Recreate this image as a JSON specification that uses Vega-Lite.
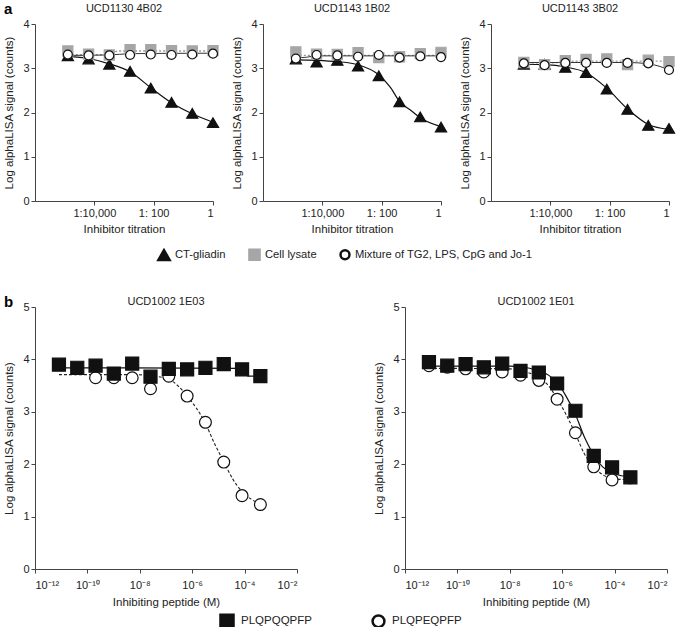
{
"$schema":"https://vega.github.io/schema/vega-lite/v6.json",
"padding":{"left":3,"top":2,"right":0,"bottom":0},
"background":"white",
"config":{
 "view":{"stroke":null},
 "font":"Liberation Sans",
 "axis":{"grid":false,"domainColor":"#444","tickColor":"#444","labelColor":"#222","titleColor":"#222","labelFont":"Liberation Sans","titleFont":"Liberation Sans","labelFontSize":11,"titleFontSize":11.5,"titleFontWeight":"normal","tickSize":4,"labelPadding":2},
 "title":{"font":"Liberation Sans","fontSize":11,"fontWeight":"normal","color":"#222","offset":4},
 "legend":{"labelFont":"Liberation Sans","labelFontSize":11.5,"labelColor":"#222","labelLimit":400}
},
"data":{"values":[
{"p":"a1","s":"CT-gliadin","k":"pt","x":1.28e-5,"y":3.28},
{"p":"a1","s":"CT-gliadin","k":"pt","x":6.4e-5,"y":3.21},
{"p":"a1","s":"CT-gliadin","k":"pt","x":3.2e-4,"y":3.09},
{"p":"a1","s":"CT-gliadin","k":"pt","x":1.6e-3,"y":2.93},
{"p":"a1","s":"CT-gliadin","k":"pt","x":8e-3,"y":2.55},
{"p":"a1","s":"CT-gliadin","k":"pt","x":0.04,"y":2.23},
{"p":"a1","s":"CT-gliadin","k":"pt","x":0.2,"y":1.98},
{"p":"a1","s":"CT-gliadin","k":"pt","x":1,"y":1.77},
{"p":"a1","s":"Cell lysate","k":"pt","x":1.28e-5,"y":3.39},
{"p":"a1","s":"Cell lysate","k":"pt","x":6.4e-5,"y":3.32},
{"p":"a1","s":"Cell lysate","k":"pt","x":3.2e-4,"y":3.30},
{"p":"a1","s":"Cell lysate","k":"pt","x":1.6e-3,"y":3.42},
{"p":"a1","s":"Cell lysate","k":"pt","x":8e-3,"y":3.42},
{"p":"a1","s":"Cell lysate","k":"pt","x":0.04,"y":3.40},
{"p":"a1","s":"Cell lysate","k":"pt","x":0.2,"y":3.39},
{"p":"a1","s":"Cell lysate","k":"pt","x":1,"y":3.40},
{"p":"a1","s":"Mixture of TG2, LPS, CpG and Jo-1","k":"pt","x":1.28e-5,"y":3.31},
{"p":"a1","s":"Mixture of TG2, LPS, CpG and Jo-1","k":"pt","x":6.4e-5,"y":3.29},
{"p":"a1","s":"Mixture of TG2, LPS, CpG and Jo-1","k":"pt","x":3.2e-4,"y":3.29},
{"p":"a1","s":"Mixture of TG2, LPS, CpG and Jo-1","k":"pt","x":1.6e-3,"y":3.30},
{"p":"a1","s":"Mixture of TG2, LPS, CpG and Jo-1","k":"pt","x":8e-3,"y":3.31},
{"p":"a1","s":"Mixture of TG2, LPS, CpG and Jo-1","k":"pt","x":0.04,"y":3.30},
{"p":"a1","s":"Mixture of TG2, LPS, CpG and Jo-1","k":"pt","x":0.2,"y":3.31},
{"p":"a1","s":"Mixture of TG2, LPS, CpG and Jo-1","k":"pt","x":1,"y":3.33},
{"p":"a1","s":"CT-gliadin","k":"fit","x":1.28e-5,"y":3.27},
{"p":"a1","s":"CT-gliadin","k":"fit","x":6.4e-5,"y":3.22},
{"p":"a1","s":"CT-gliadin","k":"fit","x":3.2e-4,"y":3.10},
{"p":"a1","s":"CT-gliadin","k":"fit","x":1.6e-3,"y":2.92},
{"p":"a1","s":"CT-gliadin","k":"fit","x":8e-3,"y":2.56},
{"p":"a1","s":"CT-gliadin","k":"fit","x":0.04,"y":2.22},
{"p":"a1","s":"CT-gliadin","k":"fit","x":0.2,"y":1.97},
{"p":"a1","s":"CT-gliadin","k":"fit","x":1,"y":1.78},
{"p":"a1","s":"Cell lysate","k":"fit","x":1.28e-5,"y":3.31},
{"p":"a1","s":"Cell lysate","k":"fit","x":3.2e-4,"y":3.31},
{"p":"a1","s":"Cell lysate","k":"fit","x":4e-4,"y":3.33},
{"p":"a1","s":"Cell lysate","k":"fit","x":5.5e-4,"y":3.38},
{"p":"a1","s":"Cell lysate","k":"fit","x":7e-4,"y":3.39},
{"p":"a1","s":"Cell lysate","k":"fit","x":1,"y":3.39},
{"p":"a1","s":"Mixture of TG2, LPS, CpG and Jo-1","k":"fit","x":1.28e-5,"y":3.29},
{"p":"a1","s":"Mixture of TG2, LPS, CpG and Jo-1","k":"fit","x":3.2e-4,"y":3.30},
{"p":"a1","s":"Mixture of TG2, LPS, CpG and Jo-1","k":"fit","x":1.6e-3,"y":3.33},
{"p":"a1","s":"Mixture of TG2, LPS, CpG and Jo-1","k":"fit","x":1,"y":3.34},

{"p":"a2","s":"CT-gliadin","k":"pt","x":1.28e-5,"y":3.21},
{"p":"a2","s":"CT-gliadin","k":"pt","x":6.4e-5,"y":3.14},
{"p":"a2","s":"CT-gliadin","k":"pt","x":3.2e-4,"y":3.18},
{"p":"a2","s":"CT-gliadin","k":"pt","x":1.6e-3,"y":3.05},
{"p":"a2","s":"CT-gliadin","k":"pt","x":8e-3,"y":2.83},
{"p":"a2","s":"CT-gliadin","k":"pt","x":0.04,"y":2.24},
{"p":"a2","s":"CT-gliadin","k":"pt","x":0.2,"y":1.90},
{"p":"a2","s":"CT-gliadin","k":"pt","x":1,"y":1.67},
{"p":"a2","s":"Cell lysate","k":"pt","x":1.28e-5,"y":3.37},
{"p":"a2","s":"Cell lysate","k":"pt","x":6.4e-5,"y":3.32},
{"p":"a2","s":"Cell lysate","k":"pt","x":3.2e-4,"y":3.31},
{"p":"a2","s":"Cell lysate","k":"pt","x":1.6e-3,"y":3.35},
{"p":"a2","s":"Cell lysate","k":"pt","x":8e-3,"y":3.24},
{"p":"a2","s":"Cell lysate","k":"pt","x":0.04,"y":3.26},
{"p":"a2","s":"Cell lysate","k":"pt","x":0.2,"y":3.33},
{"p":"a2","s":"Cell lysate","k":"pt","x":1,"y":3.36},
{"p":"a2","s":"Mixture of TG2, LPS, CpG and Jo-1","k":"pt","x":1.28e-5,"y":3.22},
{"p":"a2","s":"Mixture of TG2, LPS, CpG and Jo-1","k":"pt","x":6.4e-5,"y":3.30},
{"p":"a2","s":"Mixture of TG2, LPS, CpG and Jo-1","k":"pt","x":3.2e-4,"y":3.29},
{"p":"a2","s":"Mixture of TG2, LPS, CpG and Jo-1","k":"pt","x":1.6e-3,"y":3.26},
{"p":"a2","s":"Mixture of TG2, LPS, CpG and Jo-1","k":"pt","x":8e-3,"y":3.30},
{"p":"a2","s":"Mixture of TG2, LPS, CpG and Jo-1","k":"pt","x":0.04,"y":3.24},
{"p":"a2","s":"Mixture of TG2, LPS, CpG and Jo-1","k":"pt","x":0.2,"y":3.27},
{"p":"a2","s":"Mixture of TG2, LPS, CpG and Jo-1","k":"pt","x":1,"y":3.25},
{"p":"a2","s":"CT-gliadin","k":"fit","x":1.28e-5,"y":3.19},
{"p":"a2","s":"CT-gliadin","k":"fit","x":6.4e-5,"y":3.18},
{"p":"a2","s":"CT-gliadin","k":"fit","x":3.2e-4,"y":3.15},
{"p":"a2","s":"CT-gliadin","k":"fit","x":1.6e-3,"y":3.08},
{"p":"a2","s":"CT-gliadin","k":"fit","x":8e-3,"y":2.85},
{"p":"a2","s":"CT-gliadin","k":"fit","x":0.02,"y":2.56},
{"p":"a2","s":"CT-gliadin","k":"fit","x":0.04,"y":2.25},
{"p":"a2","s":"CT-gliadin","k":"fit","x":0.1,"y":2.04},
{"p":"a2","s":"CT-gliadin","k":"fit","x":0.2,"y":1.88},
{"p":"a2","s":"CT-gliadin","k":"fit","x":1,"y":1.68},
{"p":"a2","s":"Cell lysate","k":"fit","x":1.28e-5,"y":3.29},
{"p":"a2","s":"Cell lysate","k":"fit","x":1,"y":3.29},
{"p":"a2","s":"Mixture of TG2, LPS, CpG and Jo-1","k":"fit","x":1.28e-5,"y":3.23},
{"p":"a2","s":"Mixture of TG2, LPS, CpG and Jo-1","k":"fit","x":3e-5,"y":3.25},
{"p":"a2","s":"Mixture of TG2, LPS, CpG and Jo-1","k":"fit","x":6.4e-5,"y":3.28},
{"p":"a2","s":"Mixture of TG2, LPS, CpG and Jo-1","k":"fit","x":1,"y":3.28},

{"p":"a3","s":"CT-gliadin","k":"pt","x":1.28e-5,"y":3.09},
{"p":"a3","s":"CT-gliadin","k":"pt","x":6.4e-5,"y":3.09},
{"p":"a3","s":"CT-gliadin","k":"pt","x":3.2e-4,"y":3.02},
{"p":"a3","s":"CT-gliadin","k":"pt","x":1.6e-3,"y":2.90},
{"p":"a3","s":"CT-gliadin","k":"pt","x":8e-3,"y":2.53},
{"p":"a3","s":"CT-gliadin","k":"pt","x":0.04,"y":2.07},
{"p":"a3","s":"CT-gliadin","k":"pt","x":0.2,"y":1.71},
{"p":"a3","s":"CT-gliadin","k":"pt","x":1,"y":1.64},
{"p":"a3","s":"Cell lysate","k":"pt","x":1.28e-5,"y":3.13},
{"p":"a3","s":"Cell lysate","k":"pt","x":6.4e-5,"y":3.08},
{"p":"a3","s":"Cell lysate","k":"pt","x":3.2e-4,"y":3.17},
{"p":"a3","s":"Cell lysate","k":"pt","x":1.6e-3,"y":3.20},
{"p":"a3","s":"Cell lysate","k":"pt","x":8e-3,"y":3.21},
{"p":"a3","s":"Cell lysate","k":"pt","x":0.04,"y":3.08},
{"p":"a3","s":"Cell lysate","k":"pt","x":0.2,"y":3.18},
{"p":"a3","s":"Cell lysate","k":"pt","x":1,"y":3.15},
{"p":"a3","s":"Mixture of TG2, LPS, CpG and Jo-1","k":"pt","x":1.28e-5,"y":3.11},
{"p":"a3","s":"Mixture of TG2, LPS, CpG and Jo-1","k":"pt","x":6.4e-5,"y":3.07},
{"p":"a3","s":"Mixture of TG2, LPS, CpG and Jo-1","k":"pt","x":3.2e-4,"y":3.12},
{"p":"a3","s":"Mixture of TG2, LPS, CpG and Jo-1","k":"pt","x":1.6e-3,"y":3.12},
{"p":"a3","s":"Mixture of TG2, LPS, CpG and Jo-1","k":"pt","x":8e-3,"y":3.12},
{"p":"a3","s":"Mixture of TG2, LPS, CpG and Jo-1","k":"pt","x":0.04,"y":3.12},
{"p":"a3","s":"Mixture of TG2, LPS, CpG and Jo-1","k":"pt","x":0.2,"y":3.11},
{"p":"a3","s":"Mixture of TG2, LPS, CpG and Jo-1","k":"pt","x":1,"y":2.96},
{"p":"a3","s":"CT-gliadin","k":"fit","x":1.28e-5,"y":3.09},
{"p":"a3","s":"CT-gliadin","k":"fit","x":6.4e-5,"y":3.08},
{"p":"a3","s":"CT-gliadin","k":"fit","x":3.2e-4,"y":3.03},
{"p":"a3","s":"CT-gliadin","k":"fit","x":1.6e-3,"y":2.90},
{"p":"a3","s":"CT-gliadin","k":"fit","x":8e-3,"y":2.55},
{"p":"a3","s":"CT-gliadin","k":"fit","x":0.04,"y":2.08},
{"p":"a3","s":"CT-gliadin","k":"fit","x":0.2,"y":1.73},
{"p":"a3","s":"CT-gliadin","k":"fit","x":1,"y":1.62},
{"p":"a3","s":"Cell lysate","k":"fit","x":1.28e-5,"y":3.12},
{"p":"a3","s":"Cell lysate","k":"fit","x":1.5e-4,"y":3.12},
{"p":"a3","s":"Cell lysate","k":"fit","x":2.5e-4,"y":3.16},
{"p":"a3","s":"Cell lysate","k":"fit","x":1,"y":3.16},
{"p":"a3","s":"Mixture of TG2, LPS, CpG and Jo-1","k":"fit","x":1.28e-5,"y":3.13},
{"p":"a3","s":"Mixture of TG2, LPS, CpG and Jo-1","k":"fit","x":0.04,"y":3.13},
{"p":"a3","s":"Mixture of TG2, LPS, CpG and Jo-1","k":"fit","x":0.2,"y":3.10},
{"p":"a3","s":"Mixture of TG2, LPS, CpG and Jo-1","k":"fit","x":0.5,"y":3.04},
{"p":"a3","s":"Mixture of TG2, LPS, CpG and Jo-1","k":"fit","x":1,"y":2.96},

{"p":"b1","s":"PLQPQQPFP","k":"pt","x":8.2e-12,"y":3.90},
{"p":"b1","s":"PLQPQQPFP","k":"pt","x":4.1e-11,"y":3.84},
{"p":"b1","s":"PLQPQQPFP","k":"pt","x":2.05e-10,"y":3.88},
{"p":"b1","s":"PLQPQQPFP","k":"pt","x":1.02e-9,"y":3.73},
{"p":"b1","s":"PLQPQQPFP","k":"pt","x":5.12e-9,"y":3.92},
{"p":"b1","s":"PLQPQQPFP","k":"pt","x":2.56e-8,"y":3.67},
{"p":"b1","s":"PLQPQQPFP","k":"pt","x":1.28e-7,"y":3.82},
{"p":"b1","s":"PLQPQQPFP","k":"pt","x":6.4e-7,"y":3.81},
{"p":"b1","s":"PLQPQQPFP","k":"pt","x":3.2e-6,"y":3.84},
{"p":"b1","s":"PLQPQQPFP","k":"pt","x":1.6e-5,"y":3.91},
{"p":"b1","s":"PLQPQQPFP","k":"pt","x":8e-5,"y":3.81},
{"p":"b1","s":"PLQPQQPFP","k":"pt","x":4e-4,"y":3.68},
{"p":"b1","s":"PLQPEQPFP","k":"pt","x":2.05e-10,"y":3.65},
{"p":"b1","s":"PLQPEQPFP","k":"pt","x":1.02e-9,"y":3.65},
{"p":"b1","s":"PLQPEQPFP","k":"pt","x":5.12e-9,"y":3.65},
{"p":"b1","s":"PLQPEQPFP","k":"pt","x":2.56e-8,"y":3.44},
{"p":"b1","s":"PLQPEQPFP","k":"pt","x":1.28e-7,"y":3.68},
{"p":"b1","s":"PLQPEQPFP","k":"pt","x":6.4e-7,"y":3.30},
{"p":"b1","s":"PLQPEQPFP","k":"pt","x":3.2e-6,"y":2.80},
{"p":"b1","s":"PLQPEQPFP","k":"pt","x":1.6e-5,"y":2.04},
{"p":"b1","s":"PLQPEQPFP","k":"pt","x":8e-5,"y":1.40},
{"p":"b1","s":"PLQPEQPFP","k":"pt","x":4e-4,"y":1.23},
{"p":"b1","s":"PLQPQQPFP","k":"fit","x":8.2e-12,"y":3.84},
{"p":"b1","s":"PLQPQQPFP","k":"fit","x":8e-5,"y":3.83},
{"p":"b1","s":"PLQPQQPFP","k":"fit","x":1e-4,"y":3.80},
{"p":"b1","s":"PLQPQQPFP","k":"fit","x":1.2e-4,"y":3.70},
{"p":"b1","s":"PLQPQQPFP","k":"fit","x":1.4e-4,"y":3.68},
{"p":"b1","s":"PLQPQQPFP","k":"fit","x":4e-4,"y":3.68},
{"p":"b1","s":"PLQPEQPFP","k":"fit","x":8.2e-12,"y":3.71},
{"p":"b1","s":"PLQPEQPFP","k":"fit","x":5e-9,"y":3.71},
{"p":"b1","s":"PLQPEQPFP","k":"fit","x":2.56e-8,"y":3.69},
{"p":"b1","s":"PLQPEQPFP","k":"fit","x":1.28e-7,"y":3.62},
{"p":"b1","s":"PLQPEQPFP","k":"fit","x":2.8e-7,"y":3.50},
{"p":"b1","s":"PLQPEQPFP","k":"fit","x":6.4e-7,"y":3.30},
{"p":"b1","s":"PLQPEQPFP","k":"fit","x":1.4e-6,"y":3.08},
{"p":"b1","s":"PLQPEQPFP","k":"fit","x":3.2e-6,"y":2.78},
{"p":"b1","s":"PLQPEQPFP","k":"fit","x":7e-6,"y":2.40},
{"p":"b1","s":"PLQPEQPFP","k":"fit","x":1.6e-5,"y":2.05},
{"p":"b1","s":"PLQPEQPFP","k":"fit","x":3.5e-5,"y":1.72},
{"p":"b1","s":"PLQPEQPFP","k":"fit","x":8e-5,"y":1.48},
{"p":"b1","s":"PLQPEQPFP","k":"fit","x":1.8e-4,"y":1.33},
{"p":"b1","s":"PLQPEQPFP","k":"fit","x":4e-4,"y":1.25},

{"p":"b2","s":"PLQPQQPFP","k":"pt","x":8.2e-12,"y":3.95},
{"p":"b2","s":"PLQPQQPFP","k":"pt","x":4.1e-11,"y":3.88},
{"p":"b2","s":"PLQPQQPFP","k":"pt","x":2.05e-10,"y":3.91},
{"p":"b2","s":"PLQPQQPFP","k":"pt","x":1.02e-9,"y":3.85},
{"p":"b2","s":"PLQPQQPFP","k":"pt","x":5.12e-9,"y":3.92},
{"p":"b2","s":"PLQPQQPFP","k":"pt","x":2.56e-8,"y":3.78},
{"p":"b2","s":"PLQPQQPFP","k":"pt","x":1.28e-7,"y":3.75},
{"p":"b2","s":"PLQPQQPFP","k":"pt","x":6.4e-7,"y":3.54},
{"p":"b2","s":"PLQPQQPFP","k":"pt","x":3.2e-6,"y":3.02},
{"p":"b2","s":"PLQPQQPFP","k":"pt","x":1.6e-5,"y":2.16},
{"p":"b2","s":"PLQPQQPFP","k":"pt","x":8e-5,"y":1.94},
{"p":"b2","s":"PLQPQQPFP","k":"pt","x":4e-4,"y":1.75},
{"p":"b2","s":"PLQPEQPFP","k":"pt","x":8.2e-12,"y":3.88},
{"p":"b2","s":"PLQPEQPFP","k":"pt","x":4.1e-11,"y":3.85},
{"p":"b2","s":"PLQPEQPFP","k":"pt","x":2.05e-10,"y":3.82},
{"p":"b2","s":"PLQPEQPFP","k":"pt","x":1.02e-9,"y":3.76},
{"p":"b2","s":"PLQPEQPFP","k":"pt","x":5.12e-9,"y":3.76},
{"p":"b2","s":"PLQPEQPFP","k":"pt","x":2.56e-8,"y":3.70},
{"p":"b2","s":"PLQPEQPFP","k":"pt","x":1.28e-7,"y":3.60},
{"p":"b2","s":"PLQPEQPFP","k":"pt","x":6.4e-7,"y":3.24},
{"p":"b2","s":"PLQPEQPFP","k":"pt","x":3.2e-6,"y":2.60},
{"p":"b2","s":"PLQPEQPFP","k":"pt","x":1.6e-5,"y":1.95},
{"p":"b2","s":"PLQPEQPFP","k":"pt","x":8e-5,"y":1.70},
{"p":"b2","s":"PLQPEQPFP","k":"pt","x":4e-4,"y":1.74},
{"p":"b2","s":"PLQPQQPFP","k":"fit","x":8.2e-12,"y":3.87},
{"p":"b2","s":"PLQPQQPFP","k":"fit","x":1e-8,"y":3.87},
{"p":"b2","s":"PLQPQQPFP","k":"fit","x":2.56e-8,"y":3.86},
{"p":"b2","s":"PLQPQQPFP","k":"fit","x":1.28e-7,"y":3.78},
{"p":"b2","s":"PLQPQQPFP","k":"fit","x":3e-7,"y":3.70},
{"p":"b2","s":"PLQPQQPFP","k":"fit","x":6.4e-7,"y":3.55},
{"p":"b2","s":"PLQPQQPFP","k":"fit","x":1.4e-6,"y":3.30},
{"p":"b2","s":"PLQPQQPFP","k":"fit","x":3.2e-6,"y":2.95},
{"p":"b2","s":"PLQPQQPFP","k":"fit","x":7e-6,"y":2.52},
{"p":"b2","s":"PLQPQQPFP","k":"fit","x":1.6e-5,"y":2.18},
{"p":"b2","s":"PLQPQQPFP","k":"fit","x":3.5e-5,"y":1.95},
{"p":"b2","s":"PLQPQQPFP","k":"fit","x":8e-5,"y":1.84},
{"p":"b2","s":"PLQPQQPFP","k":"fit","x":1.8e-4,"y":1.78},
{"p":"b2","s":"PLQPQQPFP","k":"fit","x":4e-4,"y":1.76},
{"p":"b2","s":"PLQPEQPFP","k":"fit","x":8.2e-12,"y":3.83},
{"p":"b2","s":"PLQPEQPFP","k":"fit","x":1e-8,"y":3.82},
{"p":"b2","s":"PLQPEQPFP","k":"fit","x":2.56e-8,"y":3.79},
{"p":"b2","s":"PLQPEQPFP","k":"fit","x":1.28e-7,"y":3.65},
{"p":"b2","s":"PLQPEQPFP","k":"fit","x":3e-7,"y":3.50},
{"p":"b2","s":"PLQPEQPFP","k":"fit","x":6.4e-7,"y":3.25},
{"p":"b2","s":"PLQPEQPFP","k":"fit","x":1.4e-6,"y":2.95},
{"p":"b2","s":"PLQPEQPFP","k":"fit","x":3.2e-6,"y":2.58},
{"p":"b2","s":"PLQPEQPFP","k":"fit","x":7e-6,"y":2.20},
{"p":"b2","s":"PLQPEQPFP","k":"fit","x":1.6e-5,"y":1.95},
{"p":"b2","s":"PLQPEQPFP","k":"fit","x":3.5e-5,"y":1.80},
{"p":"b2","s":"PLQPEQPFP","k":"fit","x":8e-5,"y":1.73},
{"p":"b2","s":"PLQPEQPFP","k":"fit","x":4e-4,"y":1.70}
]},
"resolve":{"scale":{"shape":"independent","fill":"independent","stroke":"independent","size":"independent"},"legend":{"shape":"independent","fill":"independent","stroke":"independent","size":"independent"}},
"spacing":30,
"vconcat":[
{
 "title":{"text":"a","anchor":"start","fontSize":15,"fontWeight":"bold","color":"#000","offset":0,"dy":14},
 "spacing":10,
 "hconcat":[
  {"title":"UCD1130 4B02","width":178,"height":177,
   "transform":[{"filter":"datum.p == 'a1'"}],
   "encoding":{
    "x":{"field":"x","type":"quantitative","scale":{"type":"log","domain":[1e-6,1]},"axis":{"title":"Inhibitor titration","values":[1e-4,0.01,1],"labelExpr":"datum.value < 0.001 ? '1:10,000' : datum.value < 0.1 ? '1: 100' : '1'","titlePadding":5}},
    "y":{"field":"y","type":"quantitative","scale":{"domain":[0,4]},"axis":{"title":"Log alphaLISA signal (counts)","values":[0,1,2,3,4],"titlePadding":8}}
   },
   "layer":[
    {"transform":[{"filter":"datum.k == 'fit' && datum.s == 'Cell lysate'"}],"mark":{"type":"line","color":"#999999","strokeDash":[2,2],"strokeWidth":1.3,"interpolate":"monotone"}},
    {"transform":[{"filter":"datum.k == 'fit' && datum.s == 'Mixture of TG2, LPS, CpG and Jo-1'"}],"mark":{"type":"line","color":"#333333","strokeWidth":1,"interpolate":"monotone"}},
    {"transform":[{"filter":"datum.k == 'fit' && datum.s == 'CT-gliadin'"}],"mark":{"type":"line","color":"#111111","strokeWidth":1.2,"interpolate":"monotone"}},
    {"transform":[{"filter":"datum.k == 'pt'"}],"mark":{"type":"point","filled":true,"opacity":1,"strokeWidth":1.2},
     "encoding":{
      "shape":{"field":"s","type":"nominal","scale":{"domain":["CT-gliadin","Cell lysate","Mixture of TG2, LPS, CpG and Jo-1"],"range":["triangle-up","square","circle"]},
        "legend":{"title":null,"orient":"none","direction":"horizontal","legendX":122,"legendY":224,"columnPadding":18,"labelOffset":4,"symbolStrokeWidth":2.5,"labelFontSize":11.2}},
      "fill":{"field":"s","type":"nominal","scale":{"domain":["CT-gliadin","Cell lysate","Mixture of TG2, LPS, CpG and Jo-1"],"range":["#111111","#a6a6a6","#ffffff"]}},
      "stroke":{"field":"s","type":"nominal","scale":{"domain":["CT-gliadin","Cell lysate","Mixture of TG2, LPS, CpG and Jo-1"],"range":["#111111","#a6a6a6","#111111"]}},
      "size":{"field":"s","type":"nominal","scale":{"domain":["CT-gliadin","Cell lysate","Mixture of TG2, LPS, CpG and Jo-1"],"range":[125,80,40]}}
     }}
   ]},
  {"title":"UCD1143 1B02","width":178,"height":177,
   "transform":[{"filter":"datum.p == 'a2'"}],
   "encoding":{
    "x":{"field":"x","type":"quantitative","scale":{"type":"log","domain":[1e-6,1]},"axis":{"title":"Inhibitor titration","values":[1e-4,0.01,1],"labelExpr":"datum.value < 0.001 ? '1:10,000' : datum.value < 0.1 ? '1: 100' : '1'","titlePadding":5}},
    "y":{"field":"y","type":"quantitative","scale":{"domain":[0,4]},"axis":{"title":"Log alphaLISA signal (counts)","values":[0,1,2,3,4],"titlePadding":8}}
   },
   "layer":[
    {"transform":[{"filter":"datum.k == 'fit' && datum.s == 'Cell lysate'"}],"mark":{"type":"line","color":"#999999","strokeDash":[2,2],"strokeWidth":1.3,"interpolate":"monotone"}},
    {"transform":[{"filter":"datum.k == 'fit' && datum.s == 'Mixture of TG2, LPS, CpG and Jo-1'"}],"mark":{"type":"line","color":"#333333","strokeWidth":1,"interpolate":"monotone"}},
    {"transform":[{"filter":"datum.k == 'fit' && datum.s == 'CT-gliadin'"}],"mark":{"type":"line","color":"#111111","strokeWidth":1.2,"interpolate":"monotone"}},
    {"transform":[{"filter":"datum.k == 'pt'"}],"mark":{"type":"point","filled":true,"opacity":1,"strokeWidth":1.2},
     "encoding":{
      "shape":{"field":"s","type":"nominal","scale":{"domain":["CT-gliadin","Cell lysate","Mixture of TG2, LPS, CpG and Jo-1"],"range":["triangle-up","square","circle"]}},
      "fill":{"field":"s","type":"nominal","scale":{"domain":["CT-gliadin","Cell lysate","Mixture of TG2, LPS, CpG and Jo-1"],"range":["#111111","#a6a6a6","#ffffff"]}},
      "stroke":{"field":"s","type":"nominal","scale":{"domain":["CT-gliadin","Cell lysate","Mixture of TG2, LPS, CpG and Jo-1"],"range":["#111111","#a6a6a6","#111111"]}},
      "size":{"field":"s","type":"nominal","scale":{"domain":["CT-gliadin","Cell lysate","Mixture of TG2, LPS, CpG and Jo-1"],"range":[125,80,40]}}
     }}
   ]},
  {"title":"UCD1143 3B02","width":178,"height":177,
   "transform":[{"filter":"datum.p == 'a3'"}],
   "encoding":{
    "x":{"field":"x","type":"quantitative","scale":{"type":"log","domain":[1e-6,1]},"axis":{"title":"Inhibitor titration","values":[1e-4,0.01,1],"labelExpr":"datum.value < 0.001 ? '1:10,000' : datum.value < 0.1 ? '1: 100' : '1'","titlePadding":5}},
    "y":{"field":"y","type":"quantitative","scale":{"domain":[0,4]},"axis":{"title":"Log alphaLISA signal (counts)","values":[0,1,2,3,4],"titlePadding":8}}
   },
   "layer":[
    {"transform":[{"filter":"datum.k == 'fit' && datum.s == 'Cell lysate'"}],"mark":{"type":"line","color":"#999999","strokeDash":[2,2],"strokeWidth":1.3,"interpolate":"monotone"}},
    {"transform":[{"filter":"datum.k == 'fit' && datum.s == 'Mixture of TG2, LPS, CpG and Jo-1'"}],"mark":{"type":"line","color":"#333333","strokeWidth":1,"interpolate":"monotone"}},
    {"transform":[{"filter":"datum.k == 'fit' && datum.s == 'CT-gliadin'"}],"mark":{"type":"line","color":"#111111","strokeWidth":1.2,"interpolate":"monotone"}},
    {"transform":[{"filter":"datum.k == 'pt'"}],"mark":{"type":"point","filled":true,"opacity":1,"strokeWidth":1.2},
     "encoding":{
      "shape":{"field":"s","type":"nominal","scale":{"domain":["CT-gliadin","Cell lysate","Mixture of TG2, LPS, CpG and Jo-1"],"range":["triangle-up","square","circle"]}},
      "fill":{"field":"s","type":"nominal","scale":{"domain":["CT-gliadin","Cell lysate","Mixture of TG2, LPS, CpG and Jo-1"],"range":["#111111","#a6a6a6","#ffffff"]}},
      "stroke":{"field":"s","type":"nominal","scale":{"domain":["CT-gliadin","Cell lysate","Mixture of TG2, LPS, CpG and Jo-1"],"range":["#111111","#a6a6a6","#111111"]}},
      "size":{"field":"s","type":"nominal","scale":{"domain":["CT-gliadin","Cell lysate","Mixture of TG2, LPS, CpG and Jo-1"],"range":[125,80,40]}}
     }}
   ]}
 ]
},
{
 "title":{"text":"b","anchor":"start","fontSize":15,"fontWeight":"bold","color":"#000","offset":0,"dy":14},
 "spacing":75,
 "hconcat":[
  {"title":{"text":"UCD1002 1E03","offset":-6},"width":262,"height":262,
   "transform":[{"filter":"datum.p == 'b1'"}],
   "encoding":{
    "x":{"field":"x","type":"quantitative","scale":{"type":"log","domain":[1e-12,1e-2]},"axis":{"title":"Inhibiting peptide (M)","values":[1e-12,1e-10,1e-8,1e-6,1e-4,1e-2],"labelExpr":"datum.value < 1e-11 ? '10⁻¹²' : datum.value < 1e-9 ? '10⁻¹⁰' : datum.value < 1e-7 ? '10⁻⁸' : datum.value < 1e-5 ? '10⁻⁶' : datum.value < 1e-3 ? '10⁻⁴' : '10⁻²'","labelPadding":6,"titlePadding":6}},
    "y":{"field":"y","type":"quantitative","scale":{"domain":[0,5]},"axis":{"title":"Log alphaLISA signal (counts)","values":[0,1,2,3,4,5],"titlePadding":8}}
   },
   "layer":[
    {"transform":[{"filter":"datum.k == 'fit' && datum.s == 'PLQPEQPFP'"}],"mark":{"type":"line","color":"#222222","strokeDash":[3,2],"strokeWidth":1.1,"interpolate":"monotone"}},
    {"transform":[{"filter":"datum.k == 'fit' && datum.s == 'PLQPQQPFP'"}],"mark":{"type":"line","color":"#111111","strokeWidth":1.2,"interpolate":"monotone"}},
    {"transform":[{"filter":"datum.k == 'pt'"}],"mark":{"type":"point","filled":true,"opacity":1,"strokeWidth":1.2},
     "encoding":{
      "shape":{"field":"s","type":"nominal","scale":{"domain":["PLQPQQPFP","PLQPEQPFP"],"range":["square","circle"]},
        "legend":{"title":null,"orient":"none","direction":"horizontal","legendX":184,"legendY":306,"columnPadding":55,"labelOffset":6,"symbolStrokeWidth":2.5,"labelFontSize":11.5}},
      "fill":{"field":"s","type":"nominal","scale":{"domain":["PLQPQQPFP","PLQPEQPFP"],"range":["#111111","#ffffff"]}},
      "stroke":{"field":"s","type":"nominal","scale":{"domain":["PLQPQQPFP","PLQPEQPFP"],"range":["#111111","#111111"]}},
      "size":{"field":"s","type":"nominal","scale":{"domain":["PLQPQQPFP","PLQPEQPFP"],"range":[170,140]}},
      "order":{"field":"s","sort":"ascending"}
     }}
   ]},
  {"title":{"text":"UCD1002 1E01","offset":-6},"width":262,"height":262,
   "transform":[{"filter":"datum.p == 'b2'"}],
   "encoding":{
    "x":{"field":"x","type":"quantitative","scale":{"type":"log","domain":[1e-12,1e-2]},"axis":{"title":"Inhibiting peptide (M)","values":[1e-12,1e-10,1e-8,1e-6,1e-4,1e-2],"labelExpr":"datum.value < 1e-11 ? '10⁻¹²' : datum.value < 1e-9 ? '10⁻¹⁰' : datum.value < 1e-7 ? '10⁻⁸' : datum.value < 1e-5 ? '10⁻⁶' : datum.value < 1e-3 ? '10⁻⁴' : '10⁻²'","labelPadding":6,"titlePadding":6}},
    "y":{"field":"y","type":"quantitative","scale":{"domain":[0,5]},"axis":{"title":"Log alphaLISA signal (counts)","values":[0,1,2,3,4,5],"titlePadding":8}}
   },
   "layer":[
    {"transform":[{"filter":"datum.k == 'fit' && datum.s == 'PLQPEQPFP'"}],"mark":{"type":"line","color":"#222222","strokeDash":[3,2],"strokeWidth":1.1,"interpolate":"monotone"}},
    {"transform":[{"filter":"datum.k == 'fit' && datum.s == 'PLQPQQPFP'"}],"mark":{"type":"line","color":"#111111","strokeWidth":1.2,"interpolate":"monotone"}},
    {"transform":[{"filter":"datum.k == 'pt'"}],"mark":{"type":"point","filled":true,"opacity":1,"strokeWidth":1.2},
     "encoding":{
      "shape":{"field":"s","type":"nominal","scale":{"domain":["PLQPQQPFP","PLQPEQPFP"],"range":["square","circle"]}},
      "fill":{"field":"s","type":"nominal","scale":{"domain":["PLQPQQPFP","PLQPEQPFP"],"range":["#111111","#ffffff"]}},
      "stroke":{"field":"s","type":"nominal","scale":{"domain":["PLQPQQPFP","PLQPEQPFP"],"range":["#111111","#111111"]}},
      "size":{"field":"s","type":"nominal","scale":{"domain":["PLQPQQPFP","PLQPEQPFP"],"range":[170,140]}},
      "order":{"field":"s","sort":"ascending"}
     }}
   ]}
 ]
}
]
}
